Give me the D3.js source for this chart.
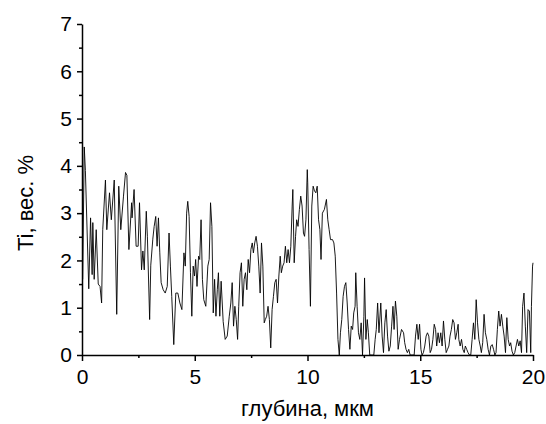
<!DOCTYPE html>
<html>
<head>
<meta charset="utf-8">
<title>Ti profile</title>
<style>
  body { margin: 0; background: #fff; }
  svg { display: block; font-family: Arial, "Liberation Sans", sans-serif; }
  .axis path, .axis line { stroke: #000; stroke-width: 1.5; }
  .axis text { font-size: 21px; fill: #000; font-family: Arial, "Liberation Sans", sans-serif; }
  .label { font-size: 22px; fill: #000; text-anchor: middle; }
</style>
</head>
<body>
<svg width="546" height="424"></svg>
<script src="https://d3js.org/d3.v7.min.js"></script>
<script>
// depth, um
var depth = [
  0.03, 0.1, 0.15, 0.3, 0.38, 0.45, 0.48, 0.54, 0.63, 0.72, 0.8, 0.87, 0.92, 1.04, 1.1, 1.22, 1.3, 1.43, 1.54, 1.63,
  1.72, 1.84, 1.93, 1.99, 2.08, 2.2, 2.22, 2.31, 2.4, 2.49, 2.55, 2.64, 2.7, 2.76, 2.85, 2.9, 3.0, 3.05, 3.14, 3.2,
  3.27, 3.33, 3.39, 3.45, 3.51, 3.6, 3.69, 3.78, 3.86, 3.92, 3.98, 4.07, 4.16, 4.25, 4.34, 4.43, 4.52, 4.58, 4.64, 4.69,
  4.75, 4.81, 4.87, 4.93, 4.99, 5.04, 5.1, 5.17, 5.22, 5.28, 5.34, 5.4, 5.49, 5.58, 5.64, 5.7, 5.76, 5.82, 5.88, 5.94,
  6.0, 6.05, 6.11, 6.17, 6.26, 6.35, 6.44, 6.53,
  6.6, 6.66, 6.72, 6.78, 6.84, 6.9, 6.95, 7.01, 7.07, 7.13, 7.19, 7.25, 7.31, 7.37, 7.43, 7.49, 7.55, 7.6, 7.66, 7.72,
  7.78, 7.84, 7.9, 7.96, 8.02, 8.08, 8.13, 8.19, 8.25, 8.31, 8.37, 8.43, 8.49, 8.55, 8.61, 8.67, 8.73, 8.79, 8.84, 8.9,
  8.96, 9.02, 9.08, 9.14, 9.2, 9.26, 9.32, 9.35, 9.41, 9.47, 9.52, 9.58, 9.64, 9.7, 9.76, 9.82, 9.87,
  9.93, 9.99, 10.01, 10.07, 10.13, 10.19, 10.25, 10.31, 10.37, 10.43, 10.49, 10.55, 10.6, 10.66, 10.75, 10.84, 10.9, 10.96, 11.02, 11.11,
  11.17, 11.23, 11.29, 11.35, 11.41, 11.46, 11.52, 11.58, 11.64, 11.7, 11.76, 11.82, 11.88, 11.94, 12.0, 12.05, 12.11, 12.14, 12.2, 12.26,
  12.32, 12.38, 12.44, 12.5, 12.53, 12.59, 12.65, 12.7, 12.76, 12.82, 12.88, 12.94, 13.0, 13.05, 13.11, 13.17,
  13.25, 13.31, 13.37, 13.43, 13.49, 13.55, 13.61, 13.67, 13.73, 13.79, 13.84, 13.9, 13.96, 14.02, 14.08, 14.17, 14.26, 14.31, 14.37, 14.43,
  14.49, 14.55, 14.73, 14.79, 14.85, 14.91, 14.97, 15.03, 15.08, 15.14, 15.2, 15.26, 15.32, 15.38, 15.44, 15.5, 15.56, 15.62, 15.68, 15.73,
  15.79, 15.85, 15.91, 15.97, 16.03, 16.09, 16.15, 16.21, 16.27, 16.32, 16.38, 16.44, 16.5, 16.56, 16.62, 16.68,
  16.71, 16.77, 16.83, 16.89, 16.95, 17.0, 17.06, 17.12, 17.18, 17.24, 17.3, 17.36, 17.42, 17.48, 17.54, 17.6, 17.66, 17.71, 17.77, 17.83,
  17.89, 17.95, 18.01, 18.07, 18.13, 18.19, 18.25, 18.31, 18.36, 18.42, 18.48, 18.54, 18.6, 18.66, 18.72, 18.78, 18.84, 18.9, 18.96, 19.01,
  19.07, 19.13, 19.19, 19.25, 19.31, 19.37, 19.43, 19.49, 19.54, 19.6, 19.66, 19.72, 19.78, 19.84, 19.9, 19.93, 19.98, 20.0
];

// Ti, wt. %
var ti = [
  1.6, 4.4, 3.9, 1.4, 2.9, 1.7, 2.8, 1.6, 2.65, 1.5, 1.45, 1.1, 2.65, 3.7, 2.65, 3.43, 2.86, 3.7, 0.86, 3.57,
  2.65, 3.36, 3.86, 3.8, 2.23, 3.22, 2.9, 3.5, 2.3, 2.3, 3.22, 1.8, 2.2, 1.8, 3.04, 2.5, 0.75, 1.9, 2.45, 2.72,
  2.93, 2.3, 2.9, 2.16, 1.53, 1.38, 1.31, 1.45, 2.58, 1.88, 1.24, 0.22, 1.31, 1.31, 1.1, 0.96, 2.16, 1.88, 3.0, 3.25,
  2.93, 1.74, 0.82, 1.88, 1.67, 2.02, 1.45, 2.09, 2.02, 2.86, 1.6, 1.17, 1.03, 1.88, 2.02, 3.22, 2.72, 0.89, 1.6, 0.82,
  1.38, 1.74, 0.82, 1.56, 0.71, 0.33, 0.4, 0.82,
  1.1, 1.53, 0.61, 1.03, 0.75, 0.33, 1.03, 1.74, 1.95, 1.03, 1.6, 1.74, 1.38, 2.02, 1.74, 2.23, 2.37, 2.16, 2.37, 2.51,
  2.3, 1.88, 1.31, 2.37, 1.88, 0.68, 0.75, 0.82, 1.03, 0.75, 0.15, 0.96, 1.24, 1.53, 1.6, 1.1, 1.67, 2.09, 1.74, 1.88,
  1.95, 2.3, 1.95, 2.23, 1.95, 2.3, 3.15, 3.5, 1.95, 2.51, 2.86, 2.72, 3.08, 3.36, 3.15, 2.58, 2.51,
  2.86, 3.92, 3.64, 2.23, 1.03, 3.15, 3.57, 3.47, 3.43, 3.57, 2.86, 2.65, 2.02, 3.0, 3.08, 3.29, 2.86, 2.65, 2.44, 2.44,
  2.37, 2.09, 1.31, 0.33, 0, 0.47, 0.75, 1.24, 1.45, 1.53, 1.1, 0.54, 0.12, 0.61, 0.54, 0.89, 1.03, 1.74, 1.03, 0.47,
  0.33, 0.68, 0, 0.82, 1.63, 0.33, 0.75, 0.47, 0, 0, 0, 0, 0.33, 0.54, 1.1, 0.47,
  1.1, 0.4, 0.05, 0.68, 0.96, 0.4, 0.08, 0.19, 0.61, 1.03, 0.54, 1.14, 0.82, 0.12, 0.33, 0.54, 0.47, 0.26, 0.12, 0.05,
  0.12, 0, 0, 0.4, 0.65, 0.33, 0.65, 0.12, 0, 0.05, 0.19, 0.4, 0.47, 0.4, 0.05, 0.12, 0.33, 0.65, 0.54, 0.19,
  0.47, 0.26, 0.47, 0.19, 0.72, 0.33, 0.05, 0.12, 0.19, 0.4, 0.54, 0.75, 0.68, 0.33, 0.47, 0.65,
  0.33, 0.19, 0.33, 0.12, 0.05, 0.19, 0.12, 0.05, 0, 0, 0.33, 0.68, 0.33, 1.17, 0.68, 0.33, 0.19, 0.05, 0.26, 0.86,
  0.47, 0.33, 0.12, 0, 0.19, 0.22, 0.12, 0, 0.05, 0.54, 0.93, 0.61, 0.86, 0.61, 0.4, 0.05, 0.79, 0.33, 0.19, 0.26,
  0.08, 0, 0.05, 0.19, 0.33, 0.19, 0.3, 0.05, 1.03, 1.31, 0.61, 0.05, 0.96, 0.93, 0.05, 1.03, 1.88, 1.95
];

var xTicks = [0, 5, 10, 15, 20];
var xMinor = [2.5, 7.5, 12.5, 17.5];
var yTicks = [0, 1, 2, 3, 4, 5, 6, 7];
var yMinor = [0.5, 1.5, 2.5, 3.5, 4.5, 5.5, 6.5];

var svg = d3.select("svg"),
  plot = {left: 82, right: 533, top: 24, bottom: 355};

var x = d3.scaleLinear().domain([0, 20]).range([plot.left, plot.right]);
var y = d3.scaleLinear().domain([0, 7]).range([plot.bottom, plot.top]);

var data = depth.map(function (d, i) { return [d, ti[i]]; });

// minor ticks first, then the main axes over them
svg.append("g")
  .attr("class", "axis")
  .attr("transform", "translate(0," + plot.bottom + ")")
  .call(d3.axisBottom(x).tickValues(xMinor).tickSize(3).tickFormat(""))
  .call(function (g) { g.select(".domain").remove(); });

svg.append("g")
  .attr("class", "axis")
  .attr("transform", "translate(" + plot.left + ",0)")
  .call(d3.axisLeft(y).tickValues(yMinor).tickSize(3).tickFormat(""))
  .call(function (g) { g.select(".domain").remove(); });

svg.append("g")
  .attr("class", "axis")
  .attr("transform", "translate(0," + plot.bottom + ")")
  .call(d3.axisBottom(x).tickValues(xTicks).tickSize(6).tickSizeOuter(0).tickPadding(8).tickFormat(d3.format("d")));

svg.append("g")
  .attr("class", "axis")
  .attr("transform", "translate(" + plot.left + ",0)")
  .call(d3.axisLeft(y).tickValues(yTicks).tickSize(5).tickSizeOuter(0).tickPadding(5).tickFormat(d3.format("d")));

svg.append("path")
  .datum(data)
  .attr("fill", "none")
  .attr("stroke", "#000")
  .attr("stroke-width", 0.9)
  .attr("d", d3.line()
    .x(function (d) { return x(d[0]); })
    .y(function (d) { return y(d[1]); }));

svg.append("text")
  .attr("class", "label")
  .attr("x", (plot.left + plot.right) / 2)
  .attr("y", 416)
  .text("глубина, мкм");

svg.append("text")
  .attr("class", "label")
  .attr("transform", "translate(33,203) rotate(-90)")
  .text("Ti, вес. %");
</script>
</body>
</html>
